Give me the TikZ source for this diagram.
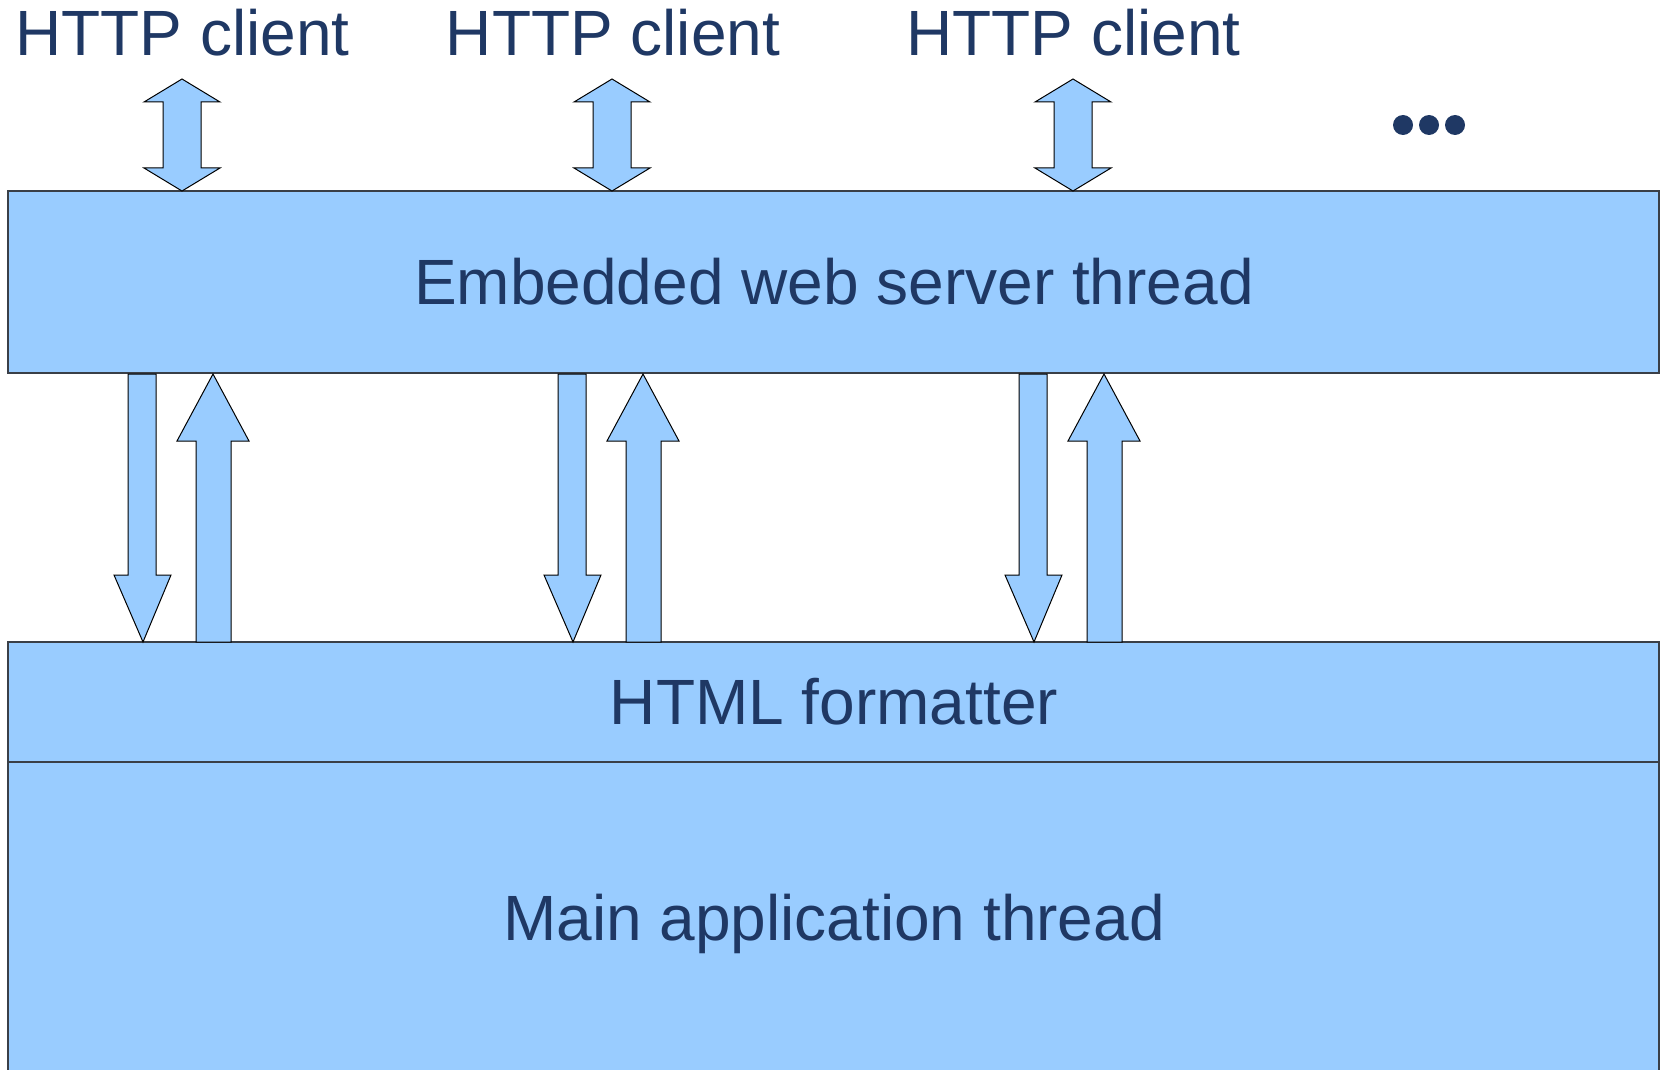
\documentclass[tikz,border=0pt]{standalone}
\usepackage{fontspec}
\setmainfont{Liberation Sans}
\definecolor{boxfill}{HTML}{99CCFF}
\definecolor{ink}{HTML}{1F3864}
\definecolor{edge}{HTML}{3A3F47}
\begin{document}
\begin{tikzpicture}[x=0.5pt,y=-0.5pt,
  layer/.style={draw=edge, fill=boxfill, line width=0.6pt, inner sep=0pt, outer sep=0pt,
    anchor=north west, minimum width=825.5pt},
  caption/.style={text=ink, font=\fontsize{32}{36}\selectfont, inner sep=0pt, anchor=base},
  blockarrow/.style={draw=black, fill=boxfill, line width=0.5pt, line join=miter},
  dot/.style={circle, fill=ink, inner sep=0pt, minimum size=10pt}]
\useasboundingbox (0,0) rectangle (1660,1070);
\clip (0,0) rectangle (1660,1070);

% layers
\node[layer, minimum height=91pt] (server) at (8,191) {};
\node[layer, minimum height=60pt] (formatter) at (8,642) {};
\node[layer, minimum height=165pt] (mainapp) at (8,762) {};

\node[caption] (serverlabel) at (834,304) {Embedded web server thread};
\node[caption] (formatterlabel) at (834,724) {HTML formatter};
\node[caption] (mainlabel) at (834,940) {Main application thread};

% clients
\node[caption] (client1) at (182.5,56) {HTTP client};
\node[caption] (client2) at (613,56) {HTTP client};
\node[caption] (client3) at (1073.5,56) {HTTP client};

\node[dot] (dot1) at (1403,125) {};
\node[dot] (dot2) at (1429,125) {};
\node[dot] (dot3) at (1455,125) {};

% request/response arrows for each client column
\foreach \dx in {0,430,891}{
  \begin{scope}[shift={(\dx,0)}]
    % client <-> server
    \draw[blockarrow] (182,79) -- (220,102) -- (201,102) -- (201,168) -- (220,168)
      -- (182,191) -- (144,168) -- (163,168) -- (163,102) -- (144,102) -- cycle;
    % server -> formatter
    \draw[blockarrow] (128,374) -- (156,374) -- (156,575) -- (171,575) -- (143,642)
      -- (114,575) -- (128,575) -- cycle;
    % formatter -> server
    \draw[blockarrow] (213,374) -- (249,441) -- (231,441) -- (231,642) -- (196,642)
      -- (196,441) -- (177,441) -- cycle;
  \end{scope}
}
\end{tikzpicture}
\end{document}
